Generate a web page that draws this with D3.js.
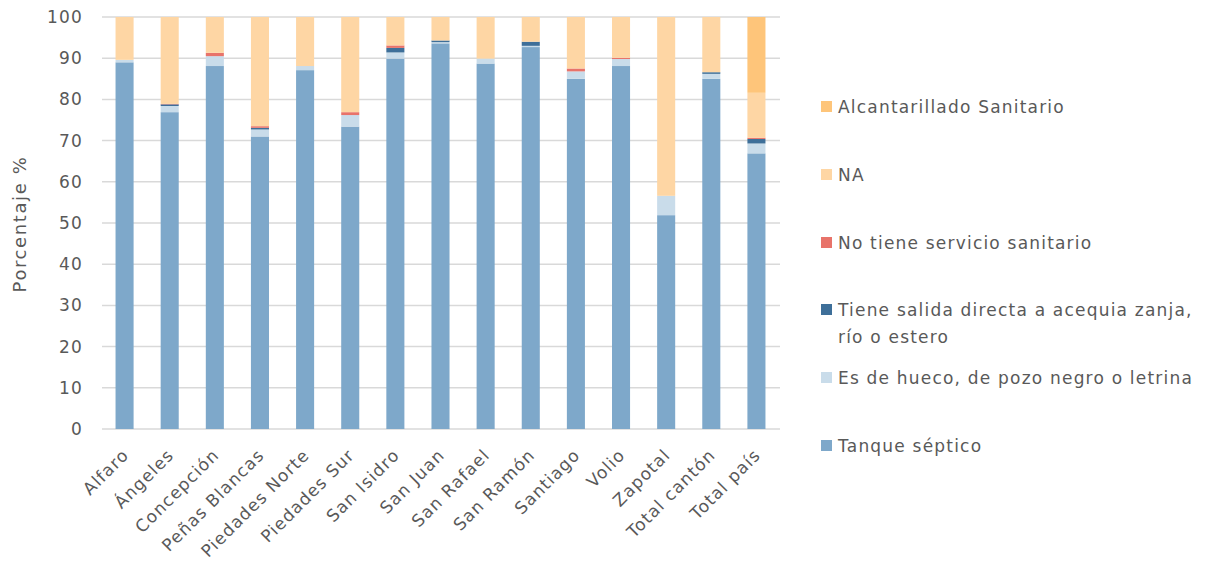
<!DOCTYPE html>
<html><head><meta charset="utf-8">
<script src="https://cdn.jsdelivr.net/npm/d3@7"></script>
<style>body{margin:0;background:#fff}svg{display:block}text{font-family:"DejaVu Sans",sans-serif;fill:#595959}</style>
</head><body><svg id="c" width="1206" height="562"></svg>
<script>
const categories = ["Alfaro","Ángeles","Concepción","Peñas Blancas","Piedades Norte","Piedades Sur","San Isidro","San Juan","San Rafael","San Ramón","Santiago","Volio","Zapotal","Total cantón","Total país"];
const seriesNames = ["Tanque séptico","Es de hueco, de pozo negro o letrina","Tiene salida directa a acequia zanja, río o estero","No tiene servicio sanitario","NA","Alcantarillado Sanitario"];
const tanque =   [89.0,76.9,88.1,71.0,87.1,73.4,89.9,93.6,88.7,92.7,85.0,88.1,51.9,85.0,66.9];
const hueco =    [0.6, 1.5, 2.4, 1.7, 1.0, 2.8, 1.5, 0.3, 1.2, 0.3, 1.8, 1.7, 4.7, 1.2, 2.4];
const salida =   [0.0, 0.4, 0.0, 0.4, 0.0, 0.0, 1.1, 0.4, 0.0, 1.0, 0.0, 0.0, 0.0, 0.4, 1.1];
const noTiene =  [0.0, 0.1, 0.8, 0.4, 0.0, 0.7, 0.6, 0.0, 0.0, 0.0, 0.7, 0.3, 0.0, 0.0, 0.3];
const na =       [10.4,21.1,8.7,26.5,11.9,23.1,6.9,5.7,10.1,6.0,12.5,9.9,43.4,13.4,10.9];
const alcant =   [0,0,0,0,0,0,0,0,0,0,0,0,0,0,18.4];
const yTicks = [0,10,20,30,40,50,60,70,80,90,100];
const colors = ["#7EA8CA","#C9DCEA","#3E6F99","#E8736A","#FED6A4","#FEC57A"];

const seriesVals = [tanque,hueco,salida,noTiene,na,alcant];
const keys = seriesNames;
const rows = categories.map((c,i)=>{const r={cat:c}; keys.forEach((k,j)=>r[k]=seriesVals[j][i]); return r;});
const stack = d3.stack().keys(keys)(rows);

const svg = d3.select("#c");
const x = d3.scaleBand().domain(categories).range([102,779]).paddingInner(0.6).paddingOuter(0.3);
const y = d3.scaleLinear().domain([0,100]).range([429,17]);

// gridlines
svg.append("g").selectAll("line").data(yTicks).join("line")
  .attr("x1",102).attr("x2",780).attr("y1",d=>y(d)).attr("y2",d=>y(d))
  .attr("stroke","#d9d9d9").attr("stroke-width",1.5);

// y axis
const ya = svg.append("g").attr("transform","translate(90,0)")
  .call(d3.axisLeft(y).tickValues(yTicks).tickSize(0).tickPadding(0));
ya.select(".domain").remove();
ya.selectAll("text").attr("font-size",17).attr("letter-spacing",1.2).attr("fill","#595959").attr("font-family","DejaVu Sans").attr("x",-7);

svg.append("text").attr("transform","translate(26,224) rotate(-90)").attr("text-anchor","middle")
  .attr("font-size",18).attr("letter-spacing",1.6).text("Porcentaje %");

// bars
svg.append("g").selectAll("g").data(stack).join("g").attr("fill",(d,i)=>colors[i])
  .selectAll("rect").data(d=>d).join("rect")
  .attr("x",d=>x(d.data.cat)).attr("width",x.bandwidth())
  .attr("y",d=>y(d[1])).attr("height",d=>Math.max(0,y(d[0])-y(d[1])));

// x axis labels
const xa = svg.append("g").attr("transform","translate(0,429)")
  .call(d3.axisBottom(x).tickSize(0).tickPadding(0));
xa.select(".domain").remove();
xa.selectAll("text").attr("font-size",17).attr("letter-spacing",1.1).attr("fill","#595959").attr("font-family","DejaVu Sans")
  .attr("text-anchor","end").attr("dy","0.35em")
  .attr("transform","translate(1,23) rotate(-45)").attr("y",0);

// legend
const legendItems = [
  {name:seriesNames[5], c:colors[5], y:107},
  {name:seriesNames[4], c:colors[4], y:175},
  {name:seriesNames[3], c:colors[3], y:243},
  {name:seriesNames[2], c:colors[2], y:310, lines:["Tiene salida directa a acequia zanja,","río o estero"]},
  {name:seriesNames[1], c:colors[1], y:378},
  {name:seriesNames[0], c:colors[0], y:446}
];
const lg = svg.append("g");
legendItems.forEach(it=>{
  lg.append("rect").attr("x",821).attr("y",it.y-6).attr("width",11).attr("height",11).attr("fill",it.c);
  const t = lg.append("text").attr("x",838).attr("y",it.y).attr("font-size",17).attr("letter-spacing",1.2);
  const lines = it.lines || [it.name];
  lines.forEach((l,k)=>t.append("tspan").attr("x",838).attr("dy",k===0?"0.35em":"1.6em").text(l));
});
</script></body></html>
